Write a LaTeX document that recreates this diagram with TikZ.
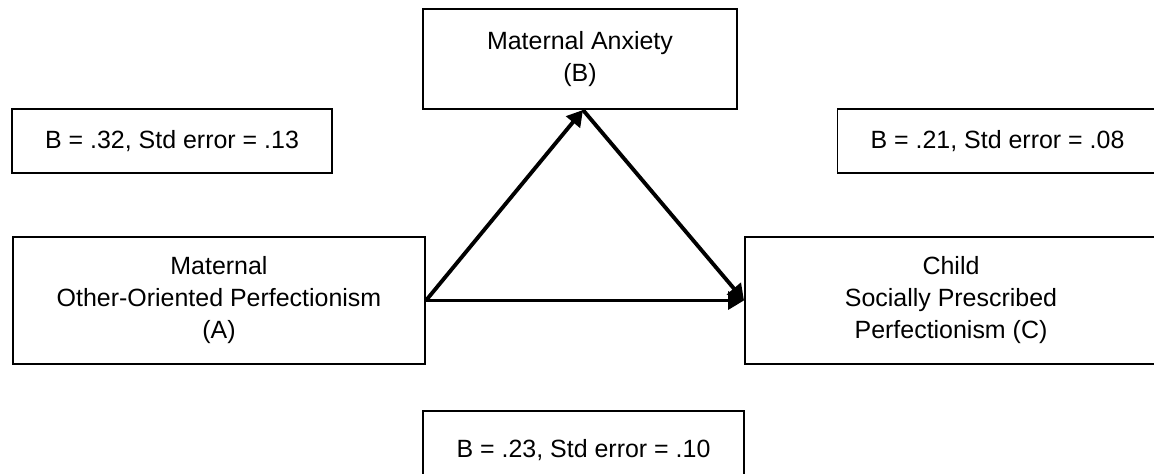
\documentclass[tikz,border=0pt]{standalone}
\usepackage{fontspec}
\setmainfont{Liberation Sans}
\usepackage{tikz}
\usetikzlibrary{arrows.meta}

\begin{document}
\begin{tikzpicture}[>={Triangle[length=9pt,width=10pt]}, every node/.style={font=\fontsize{14.2pt}{18.2pt}\selectfont, align=center},
                varbox/.style={draw, line width=1.1pt, rectangle, inner sep=0pt},
                coefbox/.style={draw, line width=1.1pt, rectangle, inner sep=0pt, minimum height=1.28cm},
                effect/.style={->, line width=2.2pt}]
                \clip (0,0) rectangle (23.08,-9.46);

                % the three variables of the mediation model
                \node[varbox, minimum width=6.28cm, minimum height=2cm] (B) at (11.6,-1.18) {Maternal Anxiety\\(B)};
                \node[varbox, minimum width=8.24cm, minimum height=2.54cm] (A) at (4.38,-6.01) {Maternal\\Other-Oriented Perfectionism\\(A)};
                \node[varbox, minimum width=8.24cm, minimum height=2.54cm] (C) at (19.02,-6.01) {Child\\Socially Prescribed\\Perfectionism (C)};

                % path coefficients
                \node[coefbox, minimum width=6.4cm] (AB) at (3.44,-2.82) {B = .32, Std error = .13};
                \node[coefbox, minimum width=6.4cm] (BC) at (19.95,-2.82) {B = .21, Std error = .08};
                \node[coefbox, minimum width=6.42cm, minimum height=1.56cm] (AC) at (11.67,-9.0) {B = .23, Std error = .10};

                % paths
                \draw[effect] (A.east) -- ([xshift=0.06cm]B.south);
                \draw[effect] ([xshift=0.06cm]B.south) -- (C.west);
                \draw[effect] (A.east) -- (C.west);
            \end{tikzpicture}
\end{document}
